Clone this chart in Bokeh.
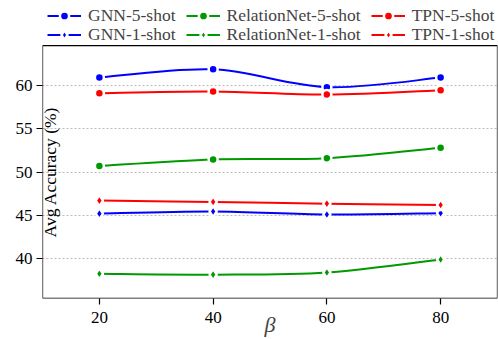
import math
from bokeh.plotting import figure
from bokeh.models import (Legend, LegendItem, Label, FixedTicker, ColumnDataSource,
                          Range1d, BoxAnnotation)
from bokeh.embed import file_html
from bokeh.resources import INLINE

beta = [20, 40, 60, 80]
gnn_5 = [60.9, 61.85, 59.8, 60.9]
tpn_5 = [59.1, 59.3, 58.95, 59.45]
rn_5 = [50.7, 51.45, 51.6, 52.8]
tpn_1 = [46.7, 46.55, 46.35, 46.2]
gnn_1 = [45.2, 45.45, 45.1, 45.25]
rn_1 = [38.25, 38.15, 38.4, 39.9]

y_ticks = [40, 45, 50, 55, 60]

X_MIN, X_MAX = 10, 90
Y_MIN, Y_MAX = 35.4, 64.6      # visible axes box
Y_TOP = 69.8                   # frame top, leaves room for the legend above the box

BLUE = "#0000FF"
GREEN = "#009900"
RED = "#FF0000"
FONT = "Liberation Serif"

series = [
    ("GNN-5-shot", gnn_5, BLUE, "circle"),
    ("RelationNet-5-shot", rn_5, GREEN, "circle"),
    ("TPN-5-shot", tpn_5, RED, "circle"),
    ("GNN-1-shot", gnn_1, BLUE, "diamond"),
    ("RelationNet-1-shot", rn_1, GREEN, "diamond"),
    ("TPN-1-shot", tpn_1, RED, "diamond"),
]

p = figure(width=498, height=339, output_backend="svg", toolbar_location=None,
           x_range=Range1d(X_MIN, X_MAX), y_range=Range1d(Y_MIN, Y_TOP),
           min_border_left=42, min_border_right=1, min_border_top=0, min_border_bottom=41)
p.extra_x_ranges = {"legend_only": Range1d(1000, 1001)}

p.outline_line_color = None
p.xgrid.grid_line_color = None
p.ygrid.grid_line_color = "#bbbbbb"
p.ygrid.grid_line_dash = "2 2"
p.ygrid.grid_line_width = 1

for ax in (p.xaxis, p.yaxis):
    ax.axis_line_color = None
    ax.major_tick_line_color = "black"
    ax.major_tick_line_width = 1.2
    ax.major_tick_in = 0
    ax.major_tick_out = 6
    ax.minor_tick_line_color = None
    ax.major_label_text_font = FONT
    ax.major_label_text_font_size = "17px"
    ax.major_label_text_color = "black"

p.xaxis.ticker = FixedTicker(ticks=beta)
p.yaxis.ticker = FixedTicker(ticks=y_ticks)
p.xaxis.axis_label = "β"
p.xaxis.axis_label_text_font = FONT
p.xaxis.axis_label_text_font_style = "italic"
p.xaxis.axis_label_text_font_size = "22px"
p.xaxis.axis_label_standoff = -14
p.xaxis.major_label_standoff = 7
p.yaxis.major_label_standoff = 4

box = BoxAnnotation(left=X_MIN, right=X_MAX, bottom=Y_MIN, top=Y_MAX,
                    fill_alpha=0, fill_color=None, line_color="black",
                    line_alpha=1.0, line_width=1.3, line_dash="solid")
p.add_layout(box)


def catmull(xs, ys):
    n = len(xs)
    pts = list(zip(xs, ys))
    x0, y0, x1, y1, cx0, cy0, cx1, cy1 = [], [], [], [], [], [], [], []
    for i in range(n - 1):
        pm = pts[i - 1] if i > 0 else pts[i]
        p0 = pts[i]
        p1 = pts[i + 1]
        p2 = pts[i + 2] if i + 2 < n else pts[i + 1]
        x0.append(p0[0]); y0.append(p0[1]); x1.append(p1[0]); y1.append(p1[1])
        cx0.append(p0[0] + (p1[0] - pm[0]) / 6); cy0.append(p0[1] + (p1[1] - pm[1]) / 6)
        cx1.append(p1[0] - (p2[0] - p0[0]) / 6); cy1.append(p1[1] - (p2[1] - p0[1]) / 6)
    return dict(x0=x0, y0=y0, x1=x1, y1=y1, cx0=cx0, cy0=cy0, cx1=cx1, cy1=cy1)


items5, items1 = [], []
for name, vals, col, mk in series:
    src = ColumnDataSource(catmull(beta, vals))
    p.bezier(x0="x0", y0="y0", x1="x1", y1="y1", cx0="cx0", cy0="cy0",
             cx1="cx1", cy1="cy1", source=src, line_color=col, line_width=2)
    lr = p.line(beta, vals, line_color=col, line_width=2, x_range_name="legend_only")
    sr = p.scatter(beta, vals, marker=mk, size=9 if mk == "circle" else 11,
                   fill_color=col, line_color="white", line_width=2.5)
    item = LegendItem(label=name, renderers=[lr, sr])
    (items5 if mk == "circle" else items1).append(item)


def make_legend(items, loc):
    return Legend(items=items, orientation="horizontal", location=loc,
                  label_text_font=FONT, label_text_font_size="17.5px",
                  glyph_width=34, glyph_height=23, label_standoff=7,
                  spacing=10, padding=0, margin=0,
                  border_line_color=None, background_fill_alpha=0,
                  label_height=15)


p.add_layout(make_legend(items5, (5, 271)))
p.add_layout(make_legend(items1, (5, 252)))

lab = Label(x=7, y=50, x_units="screen", y_units="data", text="Avg Accuracy (%)",
            angle=math.pi / 2, text_font=FONT, text_font_size="17.5px",
            text_align="center", text_baseline="middle", text_color="black")
p.add_layout(lab)

open("out.html", "w").write(file_html(p, INLINE))
